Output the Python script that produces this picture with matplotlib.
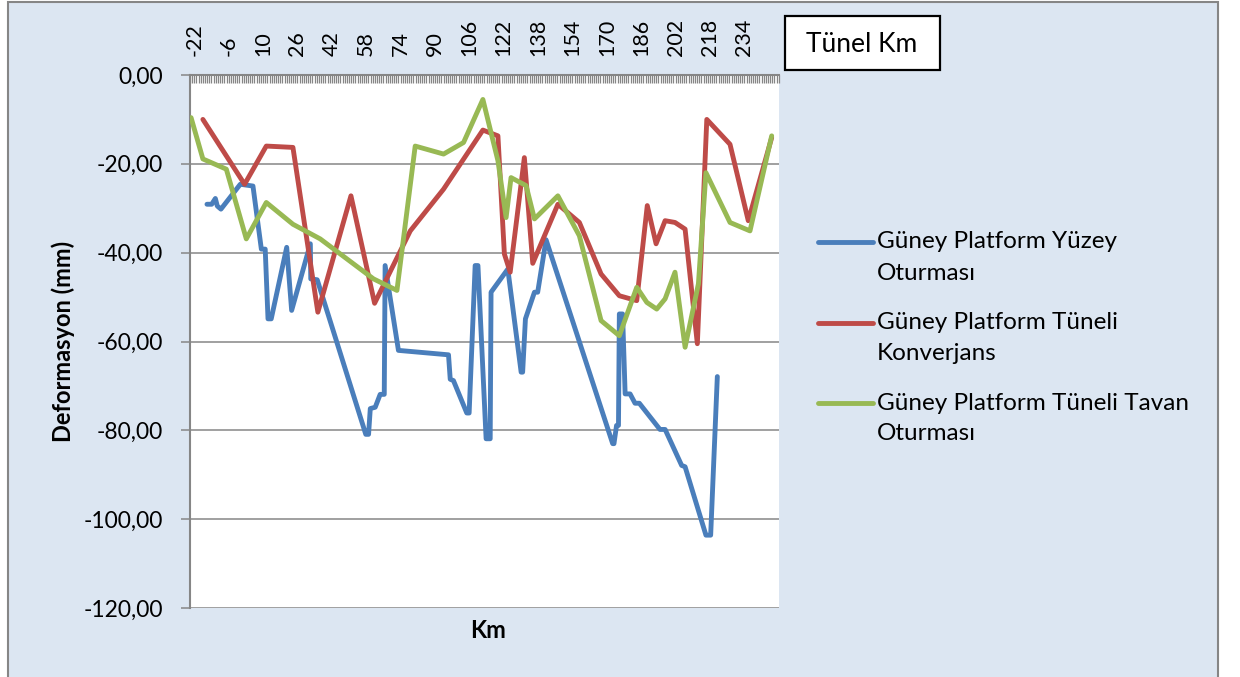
import matplotlib.pyplot as plt
from matplotlib.patches import Rectangle
from matplotlib.lines import Line2D
from matplotlib.ticker import MultipleLocator, FixedLocator, FuncFormatter

# ölçüm istasyonları (km) ve deformasyonlar (mm)
yuzey_km = [-16.1, -13.9, -12.2, -11.3, -9.6, -0.6, 5.3, 9.2, 11.0, 12.3, 13.8, 21.0, 23.3,
            32.0, 32.2, 35.2, 57.8, 59.1, 59.9, 62.2, 64.5, 66.4, 66.8, 73.0, 96.3, 97.1,
            98.6, 104.8, 105.9, 108.7, 110.0, 113.8, 115.7, 116.1, 123.9, 130.1, 130.8,
            132.1, 136.3, 137.8, 141.7, 172.7, 173.3, 174.5, 175.4, 175.8, 177.3, 178.5,
            180.8, 183.1, 185.1, 194.7, 197.1, 204.8, 206.4, 216.1, 218.3, 221.4]
yuzey_mm = [-29.1, -29.1, -27.8, -29.5, -30.2, -24.6, -25.0, -39.2, -39.2, -54.9, -54.9,
            -38.8, -53.0, -38.0, -45.9, -46.1, -80.9, -80.9, -75.1, -74.8, -71.9, -71.9,
            -42.9, -62.0, -63.0, -68.5, -68.8, -76.1, -76.1, -42.9, -42.9, -81.9, -81.9,
            -48.9, -43.7, -66.9, -66.9, -54.9, -48.9, -48.9, -37.1, -83.0, -83.0, -78.9,
            -78.9, -53.8, -53.8, -71.8, -71.8, -73.9, -73.9, -79.8, -79.8, -87.9, -88.2,
            -103.6, -103.6, -67.9]

konv_km = [-18.0, 1.4, 11.5, 23.9, 35.5, 50.9, 61.9, 78.5, 94.0, 112.3, 119.3, 122.3,
           125.0, 131.6, 135.5, 147.2, 157.2, 167.3, 175.8, 183.9, 188.8, 192.9, 197.1,
           201.7, 206.4, 212.1, 216.5, 227.3, 235.8, 246.7]
konv_mm = [-10.0, -24.6, -16.0, -16.3, -53.4, -27.2, -51.4, -35.1, -25.7, -12.4, -13.7,
           -40.3, -44.4, -18.6, -42.4, -29.1, -33.2, -44.8, -49.7, -50.8, -29.4, -38.0,
           -32.8, -33.2, -34.7, -60.5, -10.0, -15.6, -32.8, -14.1]

tavan_km = [-23.5, -18.0, -7.1, 2.2, 11.5, 23.9, 36.6, 61.4, 72.3, 80.8, 94.0, 103.3,
            112.3, 119.3, 123.1, 125.4, 132.4, 136.3, 147.2, 157.2, 167.3, 175.8, 183.9,
            188.6, 193.2, 197.1, 201.7, 206.4, 212.6, 216.1, 227.3, 236.6, 246.7]
tavan_mm = [-9.6, -18.9, -21.2, -36.9, -28.7, -33.6, -36.9, -45.9, -48.5, -16.0, -17.8,
            -15.2, -5.5, -19.3, -32.1, -23.1, -24.9, -32.4, -27.2, -36.2, -55.3, -58.7,
            -47.8, -51.2, -52.7, -50.4, -44.4, -61.3, -47.0, -22.0, -33.2, -35.1, -13.7]

km_etiketleri = list(range(-22, 235, 16))
y_etiketleri = [0, -20, -40, -60, -80, -100, -120]

seriler = [
    ("Güney Platform Yüzey", "Oturması", "#4A7EBB", yuzey_km, yuzey_mm),
    ("Güney Platform Tüneli", "Konverjans", "#BE4B48", konv_km, konv_mm),
    ("Güney Platform Tüneli Tavan", "Oturması", "#98B954", tavan_km, tavan_mm),
]

plt.rcParams['font.family'] = ['Lato', 'DejaVu Sans']
plt.rcParams['axes.unicode_minus'] = False
gri = '#868686'
W, H = 1240, 677

fig = plt.figure(figsize=(12.4, 6.77), dpi=100)
fig.patch.set_facecolor('white')
# grafik alanı zemini
fig.patches.append(Rectangle((8 / W, -0.01), (1218 - 8) / W, 1 - 2 / H + 0.01,
                             transform=fig.transFigure, facecolor='#DCE6F2',
                             edgecolor=gri, lw=1.5, zorder=-5))

ax = fig.add_axes([190 / W, 1 - 608 / H, (779 - 190) / W, (608 - 75) / H])
ax.set_zorder(1)
ax.set_facecolor('white')

for ad1, ad2, renk, x, y in seriler:
    ax.plot(x, y, color=renk, lw=3.5, solid_joinstyle='round', solid_capstyle='round',
            zorder=3)

ax.set_xlim(-24, 250.1)
ax.set_ylim(-120, 0)

# y ekseni
ax.yaxis.set_major_locator(FixedLocator(y_etiketleri))
ax.yaxis.set_major_formatter(FuncFormatter(lambda v, p: f"{v:.2f}".replace('.', ',')))
ax.grid(axis='y', color=gri, lw=1.1, zorder=1)
ax.tick_params(axis='y', direction='out', length=6.5, width=1.1, color=gri,
               labelsize=16.5, pad=13)

# x ekseni üstte, her km için çentik
ax.xaxis.tick_top()
ax.xaxis.set_major_locator(FixedLocator(km_etiketleri))
ax.xaxis.set_major_formatter(FuncFormatter(lambda v, p: f"{v:.0f}"))
ax.xaxis.set_minor_locator(MultipleLocator(1))
ax.tick_params(axis='x', which='major', direction='in', length=6, width=0.9, color=gri,
               labelsize=15.5, labelrotation=90, pad=14)
ax.tick_params(axis='x', which='minor', direction='in', length=6, width=0.9, color=gri)

for s in ['top', 'left']:
    ax.spines[s].set_color(gri)
    ax.spines[s].set_linewidth(1.5)
for s in ['right', 'bottom']:
    ax.spines[s].set_visible(False)

ax.set_ylabel("Deformasyon (mm)", fontsize=17, fontweight='bold', labelpad=6)
fig.text(488 / W, 1 - 630 / H, "Km", fontsize=17, fontweight='bold',
         ha='center', va='center')

# Tünel Km kutusu
fig.patches.append(Rectangle((785 / W, 1 - 70 / H), (940 - 785) / W, (70 - 16) / H,
                             transform=fig.transFigure, facecolor='white',
                             edgecolor='black', lw=1.6, zorder=2))
fig.text(862 / W, 1 - 44 / H, "Tünel Km", fontsize=19, ha='center', va='center')

# lejant
for i, (ad1, ad2, renk, x, y) in enumerate(seriler):
    yc = 242 + i * 80.5
    fig.lines.append(Line2D([818 / W, 873 / W], [1 - yc / H, 1 - yc / H],
                            transform=fig.transFigure, color=renk, lw=3.5,
                            solid_capstyle='round'))
    fig.text(877 / W, 1 - yc / H, ad1, fontsize=17.5, va='center')
    fig.text(877 / W, 1 - (yc + 31) / H, ad2, fontsize=17.5, va='center')

fig.savefig("out.png", dpi=100)
